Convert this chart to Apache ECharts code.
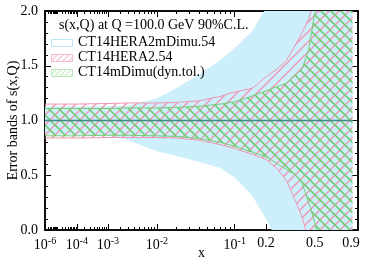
<!DOCTYPE html>
<html><head><meta charset="utf-8">
<script src="https://cdn.jsdelivr.net/npm/echarts@6/dist/echarts.min.js"></script>
<style>html,body{margin:0;padding:0;background:#fff}#c{width:374px;height:262px}</style>
</head><body><div id="c"></div>
<script>
// ---- data ----
const xValues   = [1e-6, 1e-5, 1e-4, 1e-3, 3e-3, 1e-2, 2e-2, 4e-2, 0.07, 0.1, 0.15, 0.2, 0.25, 0.3, 0.35, 0.4, 0.45, 0.5, 0.6, 0.7, 0.8, 0.92];
const blueUpper = [1.13, 1.13, 1.13, 1.13, 1.14, 1.20, 1.30, 1.42, 1.55, 1.66, 1.82, 2.03, 2.2, 2.3, 2.4, 2.5, 2.6, 2.7, 2.8, 2.9, 3.0, 3.0];
const blueLower = [0.87, 0.87, 0.87, 0.865, 0.82, 0.72, 0.675, 0.62, 0.566, 0.48, 0.31, 0.10, -0.1, -0.3, -0.5, -0.7, -0.9, -1.0, -1.0, -1.0, -1.0, -1.0];
const pinkUpper = [1.15, 1.15, 1.15, 1.155, 1.16, 1.16, 1.165, 1.18, 1.22, 1.26, 1.295, 1.40, 1.47, 1.55, 1.68, 1.80, 1.93, 2.1, 2.5, 2.8, 3.0, 3.0];
const pinkLower = [0.84, 0.84, 0.84, 0.845, 0.845, 0.845, 0.84, 0.82, 0.78, 0.745, 0.69, 0.645, 0.56, 0.45, 0.28, 0.12, -0.1, -0.3, -0.6, -0.8, -1.0, -1.0];
const greenUpper = [1.11, 1.11, 1.11, 1.11, 1.115, 1.115, 1.12, 1.13, 1.15, 1.17, 1.225, 1.27, 1.31, 1.34, 1.41, 1.47, 1.65, 1.98, 2.5, 2.8, 3.0, 3.0];
const greenLower = [0.86, 0.86, 0.86, 0.865, 0.865, 0.86, 0.855, 0.835, 0.80, 0.765, 0.71, 0.67, 0.605, 0.553, 0.507, 0.43, 0.25, 0.07, -0.3, -0.6, -0.8, -1.0];
const centralValue = [1, 1, 1, 1, 1, 1, 1, 1, 1, 1, 1, 1, 1, 1, 1, 1, 1, 1, 1, 1, 1, 1];

const xTickValues = [1e-6, 1e-4, 1e-3, 1e-2, 0.1, 0.2, 0.5, 0.9];
const xTickLabels = ['10{s|-6}', '10{s|-4}', '10{s|-3}', '10{s|-2}', '10{s|-1}', '0.2', '0.5', '0.9'];
const yTickLabels = ['0.0', '0.5', '1.0', '1.5', '2.0'];
const seriesNames = ['CT14HERA2mDimu.54', 'CT14HERA2.54', 'CT14mDimu(dyn.tol.)'];
const titleText = 's(x,Q) at Q =100.0 GeV 90%C.L.';
const xName = 'x';
const yName = 'Error bands of s(x,Q)';

// ---- helpers ----
const POW = 0.2;                       // reference axis is linear in x^0.2
const T = x => Math.pow(x, POW);
const tMin = T(1e-6), tMax = 1;
const FONT = 'Liberation Serif';

const xMinor = [];
for (let n = -6; n <= -1; n++) for (let k = 1; k <= 9; k++) {
  const v = k * Math.pow(10, n);
  if (!xTickValues.some(m => Math.abs(m - v) / v < 1e-6)) xMinor.push(v);
}
[0.3, 0.4, 0.6, 0.7, 0.8].forEach(v => xMinor.push(v));

function makeHatch(color, dir, size, lw, bg) {
  const c = document.createElement('canvas'); c.width = c.height = size;
  const g = c.getContext('2d');
  if (bg) { g.fillStyle = bg; g.fillRect(0, 0, size, size); }
  g.strokeStyle = color; g.lineWidth = lw; g.beginPath();
  if (dir === '/') { for (const k of [0, size, 2 * size]) { g.moveTo(k + 1, -1); g.lineTo(-1, k + 1); } }
  else { for (const k of [-size, 0, size]) { g.moveTo(k - 1, -1); g.lineTo(k + size + 1, size + 1); } }
  g.stroke(); return c;
}
const BLUE = '#cdeefb', PINK = '#f095b2', GREEN = '#74cd74';
const pinkPat = { image: makeHatch(PINK, '/', 10, 1.4), repeat: 'repeat' };
const greenPat = { image: makeHatch(GREEN, '\\', 10, 1.6), repeat: 'repeat' };

function bandSeries(name, up, lo, fill, lineColor, lw, z) {
  return {
    type: 'custom', name, clip: true, silent: true, z,
    data: xValues.map((x, i) => [T(x), lo[i], up[i]]),
    encode: { x: 0, y: [1, 2] },
    renderItem: (params, api) => {
      if (params.dataIndex !== 0) return null;
      const n = xValues.length;
      const upPts = [], loPts = [];
      for (let i = 0; i < n; i++) {
        upPts.push(api.coord([T(xValues[i]), up[i]]));
        loPts.push(api.coord([T(xValues[i]), lo[i]]));
      }
      const children = [{ type: 'polygon', shape: { points: upPts.concat(loPts.slice().reverse()) },
                          style: { fill: fill, stroke: null } }];
      if (lw > 0) {
        children.push({ type: 'polyline', shape: { points: upPts }, style: { stroke: lineColor, lineWidth: lw, fill: null } });
        children.push({ type: 'polyline', shape: { points: loPts }, style: { stroke: lineColor, lineWidth: lw, fill: null } });
      }
      return { type: 'group', children };
    }
  };
}

const axisLine = { show: true, onZero: false, lineStyle: { color: '#000', width: 1.5 } };
const tMajor = xTickValues.map(T), tMinor = xMinor.map(T);
function xAxis(pos, major, labels) {
  return {
    type: 'value', position: pos, min: tMin, max: tMax,
    axisLine, splitLine: { show: false },
    axisTick: { show: true, inside: true, length: major ? 6 : 3, customValues: major ? tMajor : tMinor,
                lineStyle: { color: '#000', width: 1 } },
    axisLabel: labels ? {
      show: true, customValues: tMajor, margin: 6, color: '#000', fontFamily: FONT, fontSize: 14,
      formatter: v => { let b = 0; tMajor.forEach((t, i) => { if (Math.abs(t - v) < Math.abs(tMajor[b] - v)) b = i; }); return xTickLabels[b]; },
      rich: { s: { fontSize: 10, fontFamily: FONT, verticalAlign: 'top', color: '#000', padding: [0, 0, 8, 0] } }
    } : { show: false },
    name: labels ? xName : '', nameLocation: 'middle', nameGap: 16, nameMoveOverlap: false,
    nameTextStyle: { fontFamily: FONT, fontSize: 14, color: '#000' }
  };
}
function yAxis(pos, major, labels) {
  return {
    type: 'value', position: pos, min: 0, max: 2, interval: major ? 0.5 : 0.1,
    axisLine, splitLine: { show: false },
    axisTick: { show: true, inside: true, length: major ? 6 : 3, lineStyle: { color: '#000', width: 1 } },
    axisLabel: labels ? { show: true, margin: 7, color: '#000', fontFamily: FONT, fontSize: 14,
      formatter: v => yTickLabels[Math.round(v / 0.5)] } : { show: false },
    name: labels ? yName : '', nameLocation: 'middle', nameGap: 25, nameRotate: 90, nameMoveOverlap: false,
    nameTextStyle: { fontFamily: FONT, fontSize: 14, color: '#000' }
  };
}

const legendY = [43, 58, 73];
const swatches = [
  { fill: '#fff', stroke: '#bde6f7' },
  { fill: { image: makeHatch(PINK, '/', 6, 1, '#fff'), repeat: 'repeat' }, stroke: '#f6b9cb' },
  { fill: { image: makeHatch('#a8e0a8', '/', 5, 1, '#fff'), repeat: 'repeat' }, stroke: '#b9e6b9' }
];
const graphic = [];
seriesNames.forEach((n, i) => {
  graphic.push({ type: 'rect', left: 51, top: legendY[i] - 4, z: 100,
    shape: { width: 21, height: 7 }, style: { fill: swatches[i].fill, stroke: swatches[i].stroke, lineWidth: 1 } });
  graphic.push({ type: 'text', left: 78, top: legendY[i] - 8, z: 100,
    style: { text: n, font: '14px "' + FONT + '"', fill: '#000' } });
});

const chart = echarts.init(document.getElementById('c'), null, { renderer: 'canvas' });
chart.setOption({
  animation: false,
  backgroundColor: '#fff',
  title: { text: titleText, left: 59, top: 18, textStyle: { fontFamily: FONT, fontSize: 14, fontWeight: 'normal', color: '#000' }, padding: 0 },
  grid: { left: 45, right: 16, top: 11, bottom: 32, containLabel: false, outerBoundsMode: 'none' },
  xAxis: [xAxis('bottom', true, true), xAxis('top', true, false), xAxis('bottom', false, false), xAxis('top', false, false)],
  yAxis: [yAxis('left', true, true), yAxis('right', true, false), yAxis('left', false, false), yAxis('right', false, false)],
  graphic,
  series: [
    bandSeries(seriesNames[0], blueUpper, blueLower, BLUE, BLUE, 0, 2),
    bandSeries(seriesNames[1], pinkUpper, pinkLower, pinkPat, PINK, 1, 3),
    bandSeries(seriesNames[2], greenUpper, greenLower, greenPat, GREEN, 1, 4),
    { type: 'line', name: 'central', data: xValues.map((x, i) => [T(x), centralValue[i]]), symbol: 'none', silent: true,
      lineStyle: { color: '#3f8a84', width: 1.5 }, z: 5 }
  ]
});
</script></body></html>
